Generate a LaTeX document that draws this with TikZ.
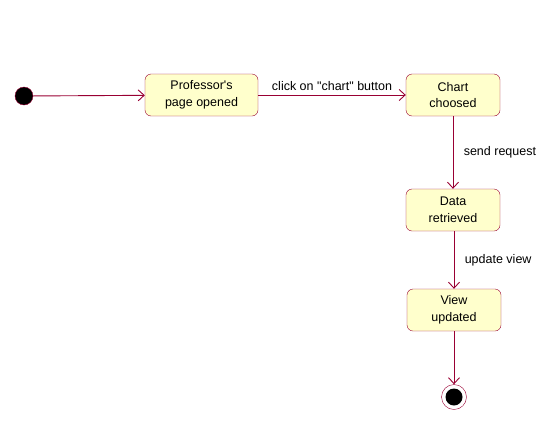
\documentclass[tikz,border=0pt]{standalone}
\usepackage{fontspec}
\setmainfont{Liberation Sans}
\usetikzlibrary{arrows.meta}
\definecolor{umlred}{RGB}{153,0,51}
\definecolor{umlfill}{RGB}{255,255,204}
\tikzset{
    state/.style={draw=umlred, fill=umlfill, rounded corners=6pt, minimum height=42pt,
        align=center, font=\fontsize{12.5}{16.5}\selectfont, inner sep=1pt},
    trans/.style={draw=umlred, line width=0.9pt, -{Straight Barb[length=6pt,width=11pt]}},
    lbl/.style={font=\fontsize{12.5}{14}\selectfont}
}
\begin{document}
\begin{tikzpicture}[x=1pt, y=-1pt]
    % Canvas
    \useasboundingbox (0,0) rectangle (551,445);

    % Initial state
    \node[circle, draw=umlred, fill=black, minimum size=18pt, inner sep=0pt] (start) at (24,96) {};

    % States
    \node[state, minimum width=113pt] (prof) at (201.5,95) {Professor\textquotesingle s\\page opened};
    \node[state, minimum width=94pt] (chart) at (453,95) {Chart\\choosed};
    \node[state, minimum width=94pt] (data) at (453,210) {Data\\retrieved};
    \node[state, minimum width=94pt] (view) at (454,310) {View\\updated};

    % Final state
    \node[circle, draw=umlred, fill=white, minimum size=25pt, inner sep=0pt] (stop) at (454,397) {};
    \fill[black] (stop) circle (8.5);

    % Transitions
    \draw[trans] (start) -- (prof);
    \draw[trans] (prof) -- node[lbl, above, yshift=1pt] {click on \textquotedbl chart\textquotedbl\ button} (chart);
    \draw[trans] (chart) -- node[lbl, right, xshift=7pt] {send request} (data);
    \draw[trans] (data.south -| view) -- node[lbl, right, xshift=7pt] {update view} (view);
    \draw[trans] (view) -- (stop);
\end{tikzpicture}
\end{document}
